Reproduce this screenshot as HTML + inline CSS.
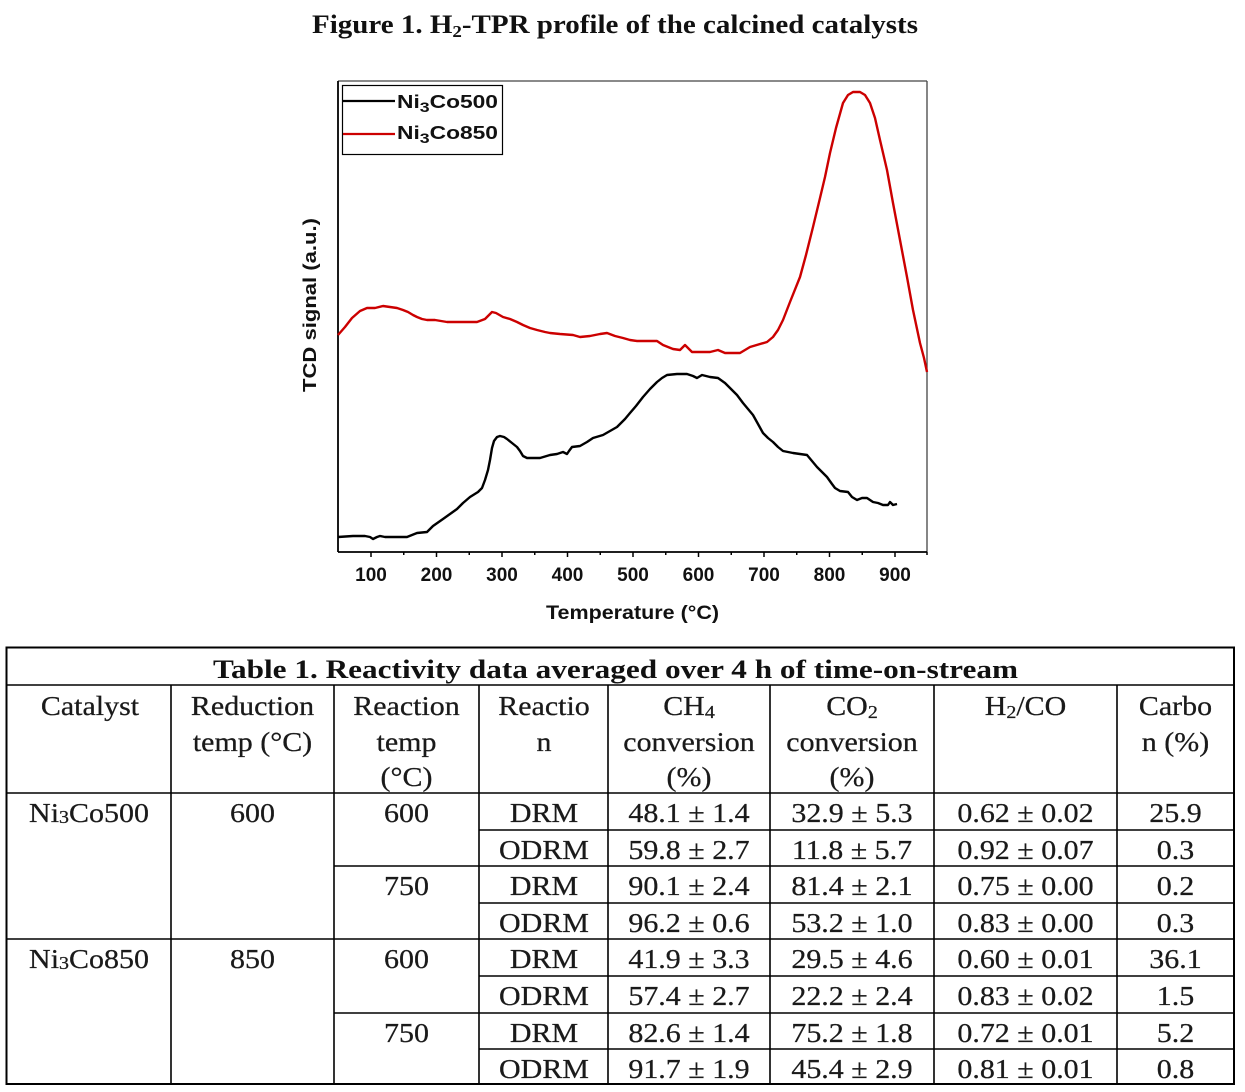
<!DOCTYPE html>
<html><head><meta charset="utf-8"><style>
html,body{margin:0;padding:0;background:#fff;}
svg{display:block;}
.t{font-family:"Liberation Serif",serif;font-size:27px;fill:#1a1a1a;stroke:#1a1a1a;stroke-width:0.25;text-anchor:middle;}
.ax{font-family:"Liberation Sans",sans-serif;font-weight:bold;}
</style></head><body>
<svg width="1245" height="1092" viewBox="0 0 1245 1092" xmlns="http://www.w3.org/2000/svg">
<rect width="1245" height="1092" fill="#fff"/>
<!-- Figure title -->
<text x="312" y="33" font-family="Liberation Serif, serif" font-weight="bold" font-size="26" fill="#111" textLength="606" lengthAdjust="spacingAndGlyphs">Figure 1. H<tspan font-size="17" dy="4">2</tspan><tspan dy="-4">-TPR profile of the calcined catalysts</tspan></text>

<!-- chart frame -->
<line x1="338" y1="81" x2="927" y2="81" stroke="#444" stroke-width="1.3"/>
<line x1="927" y1="81" x2="927" y2="552" stroke="#444" stroke-width="1.3"/>
<line x1="338" y1="81" x2="338" y2="552" stroke="#000" stroke-width="1.8"/>
<line x1="338" y1="552" x2="927" y2="552" stroke="#000" stroke-width="1.8"/>
<!-- ticks -->
<g stroke="#000" stroke-width="1.5">
<line x1="371" y1="552" x2="371" y2="557"/><line x1="436.5" y1="552" x2="436.5" y2="557"/><line x1="502" y1="552" x2="502" y2="557"/><line x1="567.5" y1="552" x2="567.5" y2="557"/><line x1="633" y1="552" x2="633" y2="557"/><line x1="698.5" y1="552" x2="698.5" y2="557"/><line x1="764" y1="552" x2="764" y2="557"/><line x1="829.5" y1="552" x2="829.5" y2="557"/><line x1="895" y1="552" x2="895" y2="557"/>
<line x1="403.75" y1="552" x2="403.75" y2="555"/><line x1="469.25" y1="552" x2="469.25" y2="555"/><line x1="534.75" y1="552" x2="534.75" y2="555"/><line x1="600.25" y1="552" x2="600.25" y2="555"/><line x1="665.75" y1="552" x2="665.75" y2="555"/><line x1="731.25" y1="552" x2="731.25" y2="555"/><line x1="796.75" y1="552" x2="796.75" y2="555"/><line x1="862.25" y1="552" x2="862.25" y2="555"/><line x1="927" y1="552" x2="927" y2="555"/>
</g>
<g class="ax" font-size="19" fill="#111" text-anchor="middle">
<text x="371" y="581">100</text><text x="436.5" y="581">200</text><text x="502" y="581">300</text><text x="567.5" y="581">400</text><text x="633" y="581">500</text><text x="698.5" y="581">600</text><text x="764" y="581">700</text><text x="829.5" y="581">800</text><text x="895" y="581">900</text>
</g>
<text class="ax" x="546" y="619" font-size="19" fill="#111" textLength="173" lengthAdjust="spacingAndGlyphs">Temperature (°C)</text>
<text class="ax" transform="translate(316,392) rotate(-90)" x="0" y="0" font-size="18" fill="#111" textLength="174" lengthAdjust="spacingAndGlyphs">TCD signal (a.u.)</text>

<!-- series -->
<polyline fill="none" stroke="#cc0000" stroke-width="2.4" stroke-linejoin="round" points="338,335 345,327 352,318 360,311 367,308 375,308 383,306 390,307 397,308 403,310 408,312 413,315 417,317 422,319 427,320 435,320 447,322 460,322 477,322 485,319 490,314 492,312 496,313 503,317 510,319 517,322 523,325 530,328 537,330 545,332 550,333 560,334 573,335 580,337 590,336 600,334 607,333 615,336 623,338 630,340 637,341 657,341 663,345 673,349 680,350 685,345 692,352 710,352 718,350 725,353 740,353 750,347 767,342 773,337 778,330 783,320 790,302 800,277 806,255 813,227 820,198 825,177 830,153 836,128 843,103 848,95 853,92 860,92 865,95 870,103 875,118 880,140 887,170 893,203 900,240 907,277 913,310 920,343 924,358 927,372"/>
<polyline fill="none" stroke="#000" stroke-width="2.4" stroke-linejoin="round" points="338,537 353,536 365,536 370,537 373,539 377,537 380,536 385,537 393,537 400,537 407,537 412,535 417,533 427,532 433,526 443,519 450,514 457,509 463,503 470,497 478,492 482,488 485,480 488,470 490,460 492,448 494,441 497,437 500,436 504,437 507,439 512,443 517,447 520,451 523,456 527,458 540,458 550,455 557,454 563,452 567,454 569,451 572,447 580,446 587,442 593,438 603,435 610,431 617,427 625,419 630,413 636,406 643,397 650,389 657,382 662,378 667,375 677,374 687,374 693,376 697,378 702,375 710,377 718,378 725,383 730,388 737,395 743,403 748,409 753,415 758,424 763,433 768,438 773,442 778,447 783,451 793,453 807,455 812,461 817,467 822,472 827,477 832,484 835,488 840,491 848,492 852,497 857,500 862,498 867,498 873,502 878,503 883,505 888,505 890,502 893,505 897,504"/>

<!-- legend -->
<rect x="342.5" y="85.5" width="160" height="69" fill="#fff" stroke="#000" stroke-width="1.2"/>
<line x1="343" y1="101" x2="395" y2="101" stroke="#000" stroke-width="2.2"/>
<line x1="343" y1="134" x2="395" y2="134" stroke="#cc0000" stroke-width="2.2"/>
<text class="ax" x="397" y="108" font-size="18" fill="#111" textLength="101" lengthAdjust="spacingAndGlyphs">Ni<tspan font-size="14" dy="4">3</tspan><tspan dy="-4">Co500</tspan></text>
<text class="ax" x="397" y="139" font-size="18" fill="#111" textLength="101" lengthAdjust="spacingAndGlyphs">Ni<tspan font-size="14" dy="4">3</tspan><tspan dy="-4">Co850</tspan></text>

<!-- table lines -->
<g stroke="#000" fill="none">
<rect x="6.5" y="647.5" width="1227.5" height="436.5" stroke-width="2"/>
<g stroke-width="1.6">
<line x1="6" y1="685" x2="1234" y2="685"/>
<line x1="6" y1="793" x2="1234" y2="793"/>
<line x1="171" y1="685" x2="171" y2="1084"/>
<line x1="334" y1="685" x2="334" y2="1084"/>
<line x1="479" y1="685" x2="479" y2="1084"/>
<line x1="608" y1="685" x2="608" y2="1084"/>
<line x1="770" y1="685" x2="770" y2="1084"/>
<line x1="934" y1="685" x2="934" y2="1084"/>
<line x1="1117" y1="685" x2="1117" y2="1084"/>
<line x1="479" y1="830" x2="1234" y2="830"/>
<line x1="334" y1="866" x2="1234" y2="866"/>
<line x1="479" y1="903" x2="1234" y2="903"/>
<line x1="6" y1="939" x2="1234" y2="939"/>
<line x1="479" y1="976" x2="1234" y2="976"/>
<line x1="334" y1="1013" x2="1234" y2="1013"/>
<line x1="479" y1="1049" x2="1234" y2="1049"/>
</g>
</g>

<!-- table title -->
<text x="213" y="678" font-family="Liberation Serif, serif" font-weight="bold" font-size="26" fill="#111" textLength="805" lengthAdjust="spacingAndGlyphs">Table 1. Reactivity data averaged over 4 h of time-on-stream</text>

<!-- header -->
<g class="t">
<text transform="translate(90,715) scale(1.11,1)">Catalyst</text>
<text transform="translate(252.5,715) scale(1.11,1)">Reduction</text>
<text transform="translate(252.5,751) scale(1.11,1)">temp (°C)</text>
<text transform="translate(406.5,715) scale(1.11,1)">Reaction</text>
<text transform="translate(406.5,751) scale(1.11,1)">temp</text>
<text transform="translate(406.5,786) scale(1.11,1)">(°C)</text>
<text transform="translate(544,715) scale(1.11,1)">Reactio</text>
<text transform="translate(544,751) scale(1.11,1)">n</text>
<text transform="translate(689,715) scale(1.11,1)">CH<tspan font-size="18" dy="3">4</tspan></text>
<text transform="translate(689,751) scale(1.11,1)">conversion</text>
<text transform="translate(689,786) scale(1.11,1)">(%)</text>
<text transform="translate(852,715) scale(1.11,1)">CO<tspan font-size="18" dy="3">2</tspan></text>
<text transform="translate(852,751) scale(1.11,1)">conversion</text>
<text transform="translate(852,786) scale(1.11,1)">(%)</text>
<text transform="translate(1025.5,715) scale(1.11,1)">H<tspan font-size="18" dy="3">2</tspan><tspan dy="-3">/CO</tspan></text>
<text transform="translate(1175.5,715) scale(1.11,1)">Carbo</text>
<text transform="translate(1175.5,751) scale(1.11,1)">n (%)</text>

<!-- rows -->
<text transform="translate(89,822) scale(1.11,1)">Ni<tspan font-size="18" dy="1">3</tspan><tspan dy="-1">Co500</tspan></text>
<text transform="translate(252.5,822) scale(1.11,1)">600</text>
<text transform="translate(406.5,822) scale(1.11,1)">600</text>
<text transform="translate(544,822) scale(1.11,1)">DRM</text>
<text transform="translate(689,822) scale(1.11,1)">48.1 ± 1.4</text>
<text transform="translate(852,822) scale(1.11,1)">32.9 ± 5.3</text>
<text transform="translate(1025.5,822) scale(1.11,1)">0.62 ± 0.02</text>
<text transform="translate(1175.5,822) scale(1.11,1)">25.9</text>

<text transform="translate(544,859) scale(1.11,1)">ODRM</text>
<text transform="translate(689,859) scale(1.11,1)">59.8 ± 2.7</text>
<text transform="translate(852,859) scale(1.11,1)">11.8 ± 5.7</text>
<text transform="translate(1025.5,859) scale(1.11,1)">0.92 ± 0.07</text>
<text transform="translate(1175.5,859) scale(1.11,1)">0.3</text>

<text transform="translate(406.5,895) scale(1.11,1)">750</text>
<text transform="translate(544,895) scale(1.11,1)">DRM</text>
<text transform="translate(689,895) scale(1.11,1)">90.1 ± 2.4</text>
<text transform="translate(852,895) scale(1.11,1)">81.4 ± 2.1</text>
<text transform="translate(1025.5,895) scale(1.11,1)">0.75 ± 0.00</text>
<text transform="translate(1175.5,895) scale(1.11,1)">0.2</text>

<text transform="translate(544,932) scale(1.11,1)">ODRM</text>
<text transform="translate(689,932) scale(1.11,1)">96.2 ± 0.6</text>
<text transform="translate(852,932) scale(1.11,1)">53.2 ± 1.0</text>
<text transform="translate(1025.5,932) scale(1.11,1)">0.83 ± 0.00</text>
<text transform="translate(1175.5,932) scale(1.11,1)">0.3</text>

<text transform="translate(89,968) scale(1.11,1)">Ni<tspan font-size="18" dy="1">3</tspan><tspan dy="-1">Co850</tspan></text>
<text transform="translate(252.5,968) scale(1.11,1)">850</text>
<text transform="translate(406.5,968) scale(1.11,1)">600</text>
<text transform="translate(544,968) scale(1.11,1)">DRM</text>
<text transform="translate(689,968) scale(1.11,1)">41.9 ± 3.3</text>
<text transform="translate(852,968) scale(1.11,1)">29.5 ± 4.6</text>
<text transform="translate(1025.5,968) scale(1.11,1)">0.60 ± 0.01</text>
<text transform="translate(1175.5,968) scale(1.11,1)">36.1</text>

<text transform="translate(544,1005) scale(1.11,1)">ODRM</text>
<text transform="translate(689,1005) scale(1.11,1)">57.4 ± 2.7</text>
<text transform="translate(852,1005) scale(1.11,1)">22.2 ± 2.4</text>
<text transform="translate(1025.5,1005) scale(1.11,1)">0.83 ± 0.02</text>
<text transform="translate(1175.5,1005) scale(1.11,1)">1.5</text>

<text transform="translate(406.5,1042) scale(1.11,1)">750</text>
<text transform="translate(544,1042) scale(1.11,1)">DRM</text>
<text transform="translate(689,1042) scale(1.11,1)">82.6 ± 1.4</text>
<text transform="translate(852,1042) scale(1.11,1)">75.2 ± 1.8</text>
<text transform="translate(1025.5,1042) scale(1.11,1)">0.72 ± 0.01</text>
<text transform="translate(1175.5,1042) scale(1.11,1)">5.2</text>

<text transform="translate(544,1078) scale(1.11,1)">ODRM</text>
<text transform="translate(689,1078) scale(1.11,1)">91.7 ± 1.9</text>
<text transform="translate(852,1078) scale(1.11,1)">45.4 ± 2.9</text>
<text transform="translate(1025.5,1078) scale(1.11,1)">0.81 ± 0.01</text>
<text transform="translate(1175.5,1078) scale(1.11,1)">0.8</text>
</g>
</svg>
</body></html>
